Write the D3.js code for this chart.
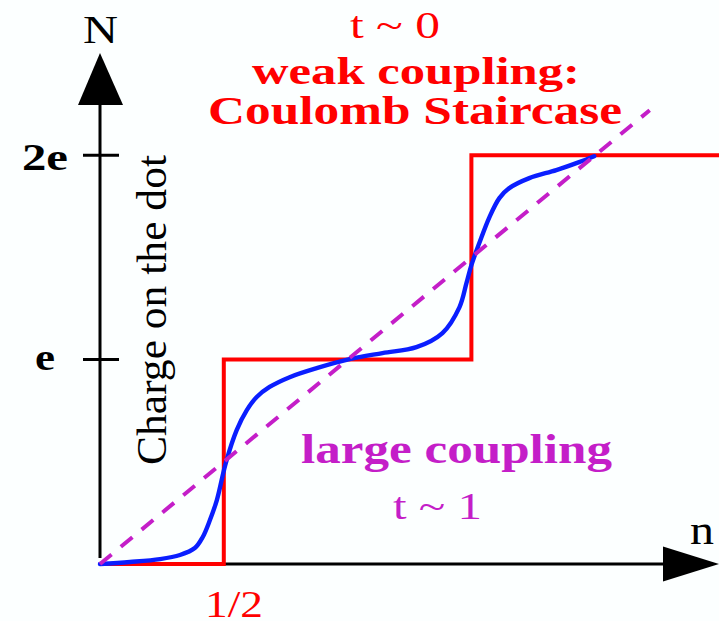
<!DOCTYPE html>
<html>
<head>
<meta charset="utf-8">
<script src="https://cdn.jsdelivr.net/npm/d3@7"></script>
<style>
  html, body { margin: 0; padding: 0; background: #fcffff; }
  svg { display: block; }
  text { font-family: "Liberation Serif", "DejaVu Serif", serif; }
</style>
</head>
<body>
<svg id="chart" width="719" height="621"></svg>
<script>
// Coulomb staircase (weak coupling): steps at n = 1/2 and n = 3/2
const staircase = [[0, 0], [0.5, 0], [0.5, 1], [1.5, 1], [1.5, 2], [2.5, 2]];

// Smoothed staircase at intermediate coupling
const smoothN = [0, 0.121, 0.242, 0.323, 0.383, 0.415, 0.444, 0.472, 0.508, 0.552, 0.593, 0.633,
                 0.685, 0.766, 0.875, 1.008, 1.141, 1.278, 1.383, 1.452, 1.480, 1.500, 1.532,
                 1.573, 1.613, 1.653, 1.734, 1.843, 1.935, 1.996];
const smoothQ = [0, 0.010, 0.024, 0.044, 0.078, 0.132, 0.215, 0.313, 0.494, 0.655, 0.753, 0.817,
                 0.866, 0.914, 0.958, 1.002, 1.032, 1.061, 1.130, 1.257, 1.374, 1.462, 1.570,
                 1.697, 1.790, 1.839, 1.888, 1.927, 1.966, 1.995];

// Large coupling: charge follows the gate linearly
const linear = [[0, 0], [2.22, 2.22]];

// Axis tick labels
const yTicks = [1, 2];
const yTickLabels = ["e", "2e"];
const xDomain = [0, 2.5];
const yDomain = [0, 2.5];

const svg = d3.select("#chart");
const x = d3.scaleLinear().domain(xDomain).range([100, 719]);
const y = d3.scaleLinear().domain(yDomain).range([564, 53]);

const RED = "#ff0000", BLUE = "#0a1eff", MAG = "#c41ec8";

// ---- axes ----
const axes = svg.append("g").attr("stroke", "#000").attr("stroke-width", 3);
axes.append("line").attr("x1", x(0)).attr("x2", x(0)).attr("y1", y(0) - 6).attr("y2", y(2.5) + 50);
axes.append("line").attr("x1", x(0)).attr("x2", x(2.5) - 54).attr("y1", y(0)).attr("y2", y(0));
// arrowheads
svg.append("path")
  .attr("d", `M${x(0)},${y(2.5)} L${x(0) - 22},${y(2.5) + 52} L${x(0) + 23},${y(2.5) + 52} Z`)
  .attr("fill", "#000");
svg.append("path")
  .attr("d", `M${x(2.5)},${y(0)} L${x(2.5) - 56},${y(0) - 17.5} L${x(2.5) - 56},${y(0) + 17.5} Z`)
  .attr("fill", "#000");
// ticks
axes.selectAll("line.tick").data(yTicks).join("line")
  .attr("class", "tick")
  .attr("x1", x(0) - 17).attr("x2", x(0) + 19)
  .attr("y1", d => y(d)).attr("y2", d => y(d));

// ---- curves ----
const line = d3.line().x(d => x(d[0])).y(d => y(d[1]));

svg.append("path")
  .attr("d", line(staircase))
  .attr("fill", "none").attr("stroke", RED).attr("stroke-width", 4)
  .attr("stroke-linejoin", "miter");

const smooth = smoothN.map((n, i) => [n, smoothQ[i]]);
svg.append("path")
  .attr("d", line.curve(d3.curveCatmullRom.alpha(0.5))(smooth))
  .attr("fill", "none").attr("stroke", BLUE).attr("stroke-width", 4.4)
  .attr("stroke-linecap", "round");

svg.append("path")
  .attr("d", d3.line().x(d => x(d[0])).y(d => y(d[1]))(linear))
  .attr("fill", "none").attr("stroke", MAG).attr("stroke-width", 4)
  .attr("stroke-dasharray", "15 12");

// ---- text ----
function label(txt, left, base, size, width, color, weight) {
  return svg.append("text")
    .attr("x", left).attr("y", base)
    .attr("font-size", size)
    .attr("font-weight", weight || "normal")
    .attr("fill", color)
    .attr("textLength", width)
    .attr("lengthAdjust", "spacingAndGlyphs")
    .text(txt);
}

label("N", 83, 43, 41, 35, "#000");
label("n", 690, 544, 42, 24, "#000");
label(yTickLabels[1], 22, 170, 37, 46, "#000", "bold");
label(yTickLabels[0], 35, 370, 37, 20, "#000", "bold");
label("1/2", 205, 617, 37, 58, RED);

label("t ~ 0", 350, 38, 37, 90, RED);
label("weak coupling:", 252, 84, 38, 328, RED, "bold");
label("Coulomb Staircase", 208, 124, 41, 414, RED, "bold");

label("large coupling", 301, 463, 42, 311, MAG, "bold");
label("t ~ 1", 393, 519, 37, 89, MAG);

svg.append("text")
  .attr("transform", "translate(166,310) rotate(-90)")
  .attr("text-anchor", "middle")
  .attr("font-size", 43)
  .attr("fill", "#000")
  .attr("textLength", 310)
  .attr("lengthAdjust", "spacingAndGlyphs")
  .text("Charge on the dot");
</script>
</body>
</html>
